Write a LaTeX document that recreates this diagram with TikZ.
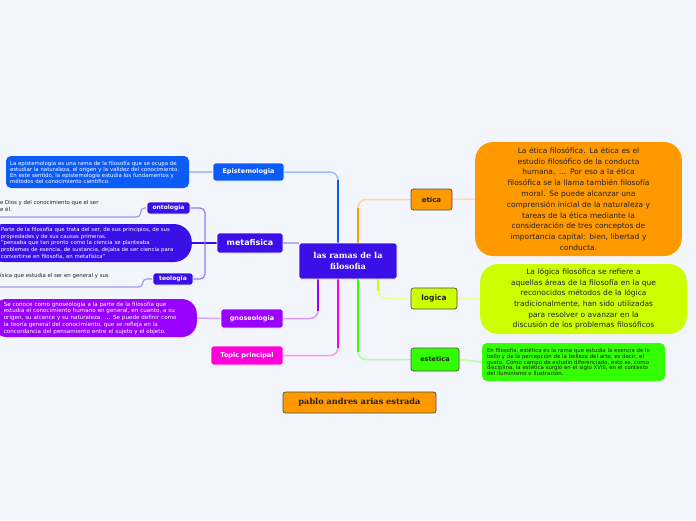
\documentclass[tikz,border=0pt]{standalone}
\usepackage{fontspec}
\setmainfont{DejaVu Sans}
\newfontfamily\titlefont{DejaVu Serif}
\definecolor{bgcol}{HTML}{F3F5FC}
\definecolor{epicol}{HTML}{0B5CF7}
\definecolor{metacol}{HTML}{3A0FE8}
\definecolor{gnocol}{HTML}{9A00FF}
\definecolor{topcol}{HTML}{FF00D9}
\definecolor{eticol}{HTML}{FF9900}
\definecolor{logcol}{HTML}{CCFF00}
\definecolor{estcol}{HTML}{33FF00}
\definecolor{inkcol}{HTML}{222222}

\pgfdeclarelayer{paper}
\pgfdeclarelayer{links}
\pgfsetlayers{paper,links,main}

\tikzset{
  branch/.style={rounded corners=2.5pt, draw=white, line width=0.7pt, text=white,
    font=\bfseries\fontsize{6.5}{7}\selectfont, inner sep=0pt},
  leaf/.style={rounded corners=2.5pt, draw=inkcol!80, line width=0.7pt, text=inkcol,
    font=\bfseries\fontsize{7}{8}\selectfont, inner sep=0pt},
  note/.style={text=white, align=left, inner ysep=0pt},
  link/.style={line width=1.5pt, rounded corners=8pt},
}

\begin{document}
\begin{tikzpicture}[x=1pt,y=-1pt]
\useasboundingbox (0,0) rectangle (696,520);
\begin{pgfonlayer}{paper}
\fill [bgcol] (0,0) rectangle (696,520);
\end{pgfonlayer}

% main topic and branches
\node [branch, fill=metacol, minimum width=98pt, minimum height=36pt, align=center,
  font=\titlefont\bfseries\fontsize{8.2}{10.5}\selectfont] (center) at (348,261) {las ramas de la\\filosofia};
\node [branch, fill=epicol, minimum width=71pt, minimum height=18pt] (epi) at (248.5,172) {Epistemologia};
\node [branch, fill=metacol, minimum width=66pt, minimum height=20pt,
  font=\bfseries\fontsize{8}{9}\selectfont] (meta) at (250,243) {metafisica};
\node [branch, fill=gnocol, minimum width=62pt, minimum height=19pt] (gno) at (252,318.5) {gnoseologia};
\node [branch, fill=topcol, minimum width=72pt, minimum height=19pt] (topic) at (247,355.5) {Topic principal};
\node [branch, fill=metacol, minimum width=43pt, minimum height=12pt,
  font=\bfseries\fontsize{6}{7}\selectfont] (ont) at (168.5,208) {ontologia};
\node [branch, fill=metacol, minimum width=40pt, minimum height=12pt,
  font=\bfseries\fontsize{6}{7}\selectfont] (teo) at (173,279) {teologia};
\node [leaf, fill=eticol, minimum width=41pt, minimum height=21pt] (eti) at (431.5,199.5) {etica};
\node [leaf, fill=logcol, minimum width=46pt, minimum height=21pt,
  font=\bfseries\fontsize{7.5}{8}\selectfont] (log) at (434,298.5) {logica};
\node [leaf, fill=estcol, minimum width=48pt, minimum height=23pt,
  font=\bfseries\fontsize{6.5}{7}\selectfont] (est) at (435,359.5) {estetica};
\node [leaf, fill=eticol, minimum width=153pt, minimum height=21pt,
  font=\titlefont\bfseries\fontsize{8.2}{9}\selectfont] (author) at (359.5,402.5) {pablo andres arias estrada};

% descriptions
\node [note, fill=epicol, rounded corners=5pt, inner xsep=4pt, text width=175pt, minimum height=32pt,
  font=\fontsize{5.4}{6}\selectfont] (epidesc) at (97.5,172) {La epistemología es una rama de la filosofía que se ocupa de\\
estudiar la naturaleza, el origen y la validez del conocimiento.\\
En este sentido, la epistemología estudia los fundamentos y\\
métodos del conocimiento científico.};
\node [note, fill=metacol, rounded corners=18pt, inner xsep=15pt, text width=176pt, minimum height=38pt,
  anchor=east, font=\fontsize{5.4}{6.7}\selectfont] (metadesc) at (192,243) {Parte de la filosofía que trata del ser, de sus principios, de sus\\
propiedades y de sus causas primeras.\\
"pensaba que tan pronto como la ciencia se planteaba\\
problemas de esencia, de sustancia, dejaba de ser ciencia para\\
convertirse en filosofía, en metafísica"};
\node [note, fill=gnocol, rounded corners=15pt, inner xsep=12pt, text width=181pt, minimum height=38pt,
  anchor=east, font=\fontsize{5.6}{6.7}\selectfont] (gnodesc) at (197,318) {Se conoce como gnoseología a la parte de la filosofía que\\
estudia el conocimiento humano en general, en cuanto, a su\\
origen, su alcance y su naturaleza. ... Se puede definir como\\
la teoría general del conocimiento, que se refleja en la\\
concordancia del pensamiento entre el sujeto y el objeto.};
\node [note, text=inkcol, anchor=north west, inner sep=0pt,
  font=\fontsize{5.4}{6.2}\selectfont] (ontdesc) at (0,200.5) {e Dios y del conocimiento que el ser\\e él.};
\node [note, text=inkcol, anchor=north west, inner sep=0pt,
  font=\fontsize{5.4}{6.2}\selectfont] (teodesc) at (0,272.5) {ísica que estudia el ser en general y sus};
\node [note, text=inkcol, fill=eticol, rounded corners=18pt, minimum width=205pt, minimum height=114pt,
  text width=200pt, align=center, font=\fontsize{7.5}{10.8}\selectfont] (etidesc) at (578.5,199) {La ética filosófica. La ética es el\\
estudio filosófico de la conducta\\
humana. ... Por eso a la ética\\
filosófica se la llama también filosofía\\
moral. Se puede alcanzar una\\
comprensión inicial de la naturaleza y\\
tareas de la ética mediante la\\
consideración de tres conceptos de\\
importancia capital: bien, libertad y\\
conducta.};
\node [note, text=inkcol, fill=logcol, rounded corners=18pt, minimum width=205pt, minimum height=70pt,
  text width=200pt, align=center, font=\fontsize{7.5}{10.6}\selectfont] (logdesc) at (583.5,299) {La lógica filosófica se refiere a\\
aquellas áreas de la filosofía en la que\\
reconocidos métodos de la lógica\\
tradicionalmente, han sido utilizadas\\
para resolver o avanzar en la\\
discusión de los problemas filosóficos};
\node [note, text=inkcol, fill=estcol, rounded corners=5pt, inner xsep=5pt, text width=173pt, minimum height=38pt,
  font=\fontsize{5.4}{5.6}\selectfont] (estdesc) at (573.5,362) {En filosofía, estética es la rama que estudia la esencia de lo\\
bello y de la percepción de la belleza del arte, es decir, el\\
gusto. Como campo de estudio diferenciado, esto es, como\\
disciplina, la estética surgió en el siglo XVIII, en el contexto\\
del Iluminismo o Ilustración.};

% connectors
\coordinate (epiout) at ([xshift=-10pt]center.north);
\coordinate (etiout) at ([xshift=10pt]center.north);
\coordinate (gnoout) at ([xshift=-30pt]center.south);
\coordinate (topout) at ([xshift=-10pt]center.south);
\coordinate (estout) at ([xshift=10pt]center.south);
\coordinate (logout) at ([xshift=30pt]center.south);
\coordinate (brk) at (205,243);
\coordinate (ontend) at (0,217);
\coordinate (teoend) at (0,287);
\begin{pgfonlayer}{links}
\draw [link, epicol!40] (epiout) |- (epi.east);
\draw [link, epicol, shorten >=8pt] (epiout) -- (epiout |- epi.east);
\draw [link, eticol!40] (etiout) |- (eti.west);
\draw [link, eticol, shorten >=8pt] (etiout) -- (etiout |- eti.west);
\draw [link, gnocol!40] (gnoout) |- (gno.east);
\draw [link, gnocol, shorten >=8pt] (gnoout) -- (gnoout |- gno.east);
\draw [link, topcol!40] (topout) |- (topic.east);
\draw [link, topcol, shorten >=8pt] (topout) -- (topout |- topic.east);
\draw [link, estcol!40] (estout) |- (est.west);
\draw [link, estcol, shorten >=8pt] (estout) -- (estout |- est.west);
\draw [link, logcol!40] (logout) |- (log.west);
\draw [link, logcol, shorten >=8pt] (logout) -- (logout |- log.west);
\draw [link, metacol!35] (meta.east) -- (meta.east -| center.west);
\draw [link, metacol] (meta.west) -- (metadesc.east);
\draw [link, line width=1.2pt, rounded corners=5pt, metacol!55] (ont.east) -| (brk) |- (teo.east);
\draw [link, line width=1.2pt, rounded corners=4pt, metacol!45] (ont.west) -- ++(-6,0) |- (ontend);
\draw [link, line width=1.2pt, rounded corners=4pt, metacol!45] (teo.west) -- ++(-10,0) |- (teoend);
\draw [link, epicol!35] (epi.west) -- (epidesc.east);
\draw [link, gnocol!35] (gno.west) -- (gnodesc.east);
\draw [link, eticol!35] (eti.east) -- (etidesc.west);
\draw [link, logcol!35] (log.east) -- (logdesc.west);
\draw [link, estcol!35] (est.east) -- (estdesc.west);
\end{pgfonlayer}
\end{tikzpicture}
\end{document}
